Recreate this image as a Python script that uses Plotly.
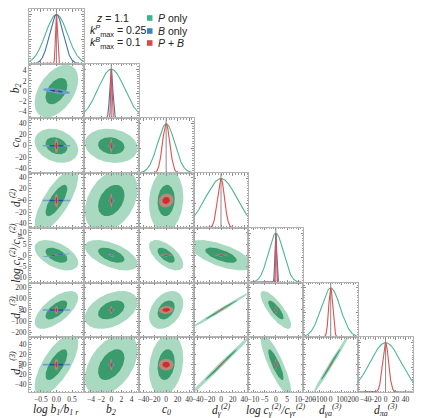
import numpy as np
import plotly.graph_objects as go
from plotly.subplots import make_subplots

# parameter names (row / column order of the triangle)
param_labels = [
    "log b<sub>1</sub>/b<sub>1 r</sub>",
    "b<sub>2</sub>",
    "c<sub>0</sub>",
    "d<sub>γ</sub><sup>(2)</sup>",
    "log c<sub>γ</sub><sup>(2)</sup>/c<sub>γr</sub><sup>(2)</sup>",
    "d<sub>γa</sub><sup>(3)</sup>",
    "d<sub>πa</sub><sup>(3)</sup>",
]
fiducial = [0, 0, 0, 0, 0, 0, 0]
axis_ranges = [[-0.88, 0.88], [-5.4, 5.4], [-48, 48], [-47, 47],
               [-12.2, 12.2], [-245, 245], [-55, 55]]
tick_vals = [[-0.5, 0.0, 0.5], [-4, -2, 0, 2, 4], [-40, -20, 0, 20, 40],
             [-40, -20, 0, 20, 40], [-10, -5, 0, 5, 10],
             [-200, -100, 0, 100, 200], [-40, -20, 0, 20, 40]]
tick_text = [["−0.5", "0.0", "0.5"], ["−4", "−2", "0", "2", "4"],
             ["−40", "−20", "0", "20", "40"], ["−40", "−20", "0", "20", "40"],
             ["−10", "−5", "0", "5", "10"], ["−200", "−100", "0", "100", "200"],
             ["−40", "−20", "0", "20", "40"]]

# marginal errors for the three cases (0 = fixed / not constrained)
sigma_p = [0.35, 2.6, 15.0, 27.0, 3.4, 85.0, 31.0]
sigma_b = [0.22, 0.3, 0.0, 0.0, 0.4, 0.0, 0.0]
sigma_pb = [0.03, 0.12, 6.5, 6.0, 0.2, 18.0, 6.0]

# correlation coefficients, lower triangle (row i vs column j < i)
corr_p = [
    [],
    [0.45],
    [-0.25, -0.15],
    [0.75, 0.35, 0.1],
    [-0.5, -0.55, -0.6, -0.65],
    [0.65, 0.4, 0.35, 0.994, -0.8],
    [0.7, 0.45, 0.2, 0.995, -0.85, 0.992],
]
corr_b = [
    [],
    [-0.6],
    [0, 0],
    [0, 0, 0],
    [0.83, -0.6, 0, 0],
    [0, 0, 0, 0, 0],
    [0, 0, 0, 0, 0, 0],
]
corr_pb = [
    [],
    [0.0],
    [0.0, 0.0],
    [0.0, 0.0, 0.1],
    [0.0, 0.0, 0.0, 0.0],
    [0.0, 0.0, 0.1, 0.99, 0.0],
    [0.0, 0.0, 0.0, 0.99, 0.0, 0.99],
]

levels = [2.0, 1.0]  # 2-sigma and 1-sigma contours

green = ["#a9d9c1", "#3a9b6c", "#4fb694"]
blue = ["#6f9fcf", "#1f4f96", "#3f74ad"]
red = ["rgba(226,130,130,0.75)", "#d42a2a", "#e05050"]

N = len(param_labels)
fig = make_subplots(rows=N, cols=N, horizontal_spacing=0, vertical_spacing=0)


def ellipse(sx, sy, rho, k, x0, y0):
    t = np.linspace(0, 2 * np.pi, 200)
    x = x0 + k * sx * np.cos(t)
    y = y0 + k * sy * (rho * np.cos(t) + np.sqrt(max(1 - rho ** 2, 0)) * np.sin(t))
    return x, y


for i in range(N):
    for j in range(i):
        for sig, cor, cols in [(sigma_p, corr_p, green), (sigma_b, corr_b, blue),
                               (sigma_pb, corr_pb, red)]:
            if sig[i] == 0 and sig[j] == 0:
                continue
            for lev, fc in zip(levels, cols[:2]):
                ex, ey = ellipse(sig[j], sig[i], cor[i][j], lev, fiducial[j], fiducial[i])
                degenerate = sig[i] == 0 or sig[j] == 0
                fig.add_trace(go.Scatter(
                    x=ex, y=ey, mode="lines", fill="toself", fillcolor=fc,
                    line=dict(color=fc, width=1.6 if degenerate else 0),
                    hoverinfo="skip", showlegend=False), row=i + 1, col=j + 1)

# 1D marginals on the diagonal
for i in range(N):
    lo, hi = axis_ranges[i]
    fig.add_trace(go.Scatter(x=[fiducial[i], fiducial[i]], y=[0, 1.11], mode="lines",
                             line=dict(color="#8a8a8a", width=1), hoverinfo="skip",
                             showlegend=False), row=i + 1, col=i + 1)
    xs = np.linspace(lo, hi, 2001)
    for sig, cols in [(sigma_p, green), (sigma_b, blue), (sigma_pb, red)]:
        if sig[i] == 0:
            continue
        ys = np.exp(-0.5 * ((xs - fiducial[i]) / sig[i]) ** 2)
        fig.add_trace(go.Scatter(x=xs, y=ys, mode="lines",
                                 line=dict(color=cols[2], width=1.1),
                                 hoverinfo="skip", showlegend=False),
                      row=i + 1, col=i + 1)

ax_common = dict(showline=True, linecolor="#b4b4b4", linewidth=1, mirror="allticks",
                 ticks="inside", ticklen=2.5, tickcolor="#8c8c8c", tickwidth=0.8,
                 showgrid=False, zeroline=False, automargin=False, tickangle=0,
                 minor=dict(ticks="inside", ticklen=1.5, tickcolor="#a0a0a0", nticks=5),
                 tickfont=dict(family="Liberation Serif", size=7.5, color="#333"))

for i in range(N):
    for j in range(N):
        if j > i:
            fig.update_xaxes(visible=False, automargin=False, row=i + 1, col=j + 1)
            fig.update_yaxes(visible=False, automargin=False, row=i + 1, col=j + 1)
            continue
        fig.update_xaxes(ax_common, range=axis_ranges[j], tickvals=tick_vals[j],
                         ticktext=tick_text[j], showticklabels=(i == N - 1),
                         row=i + 1, col=j + 1)
        if i == j:
            fig.update_yaxes(ax_common, range=[0, 1.11], tickvals=[0, 0.5, 1.0],
                             showticklabels=False, row=i + 1, col=j + 1)
        else:
            fig.update_yaxes(ax_common, range=axis_ranges[i], tickvals=tick_vals[i],
                             ticktext=tick_text[i], showticklabels=(j == 0),
                             row=i + 1, col=j + 1)

# the page body adds an 8px offset, so the figure is 8px smaller and shifted
OFF = 8
FIG_W, FIG_H = 443 - OFF, 418 - OFF
L, T, W, H = 29 - OFF, 1, 384, 383


def px(x):
    return (x - OFF - L) / W


def py(y):
    return (T + H - (y - OFF)) / H


annots = []
title_font = dict(family="Liberation Serif", size=11.5, color="#222")
for k in range(N):
    annots.append(dict(text="<i>" + param_labels[k] + "</i>", x=px(29 + (k + 0.5) * W / N),
                       y=py(409.5), xref="paper", yref="paper", showarrow=False,
                       xanchor="center", yanchor="middle", font=title_font))
    if k > 0:
        annots.append(dict(text="<i>" + param_labels[k] + "</i>", x=px(16),
                           y=py(6 + (k + 0.5) * 384 / N), xref="paper", yref="paper",
                           showarrow=False, textangle=-90, xanchor="center",
                           yanchor="middle", font=title_font))

info_font = dict(family="Liberation Sans", size=10.5, color="#222")
annots.append(dict(text="<i>z</i> = 1.1", x=px(112), y=py(18), xref="paper", yref="paper",
                   showarrow=False, xanchor="center", yanchor="middle", font=info_font))
annots.append(dict(text="<i>k</i><sup><i>P</i></sup><sub>max</sub> = 0.25", x=px(88), y=py(31),
                   xref="paper", yref="paper", showarrow=False, xanchor="left",
                   yanchor="middle", font=info_font))
annots.append(dict(text="<i>k</i><sup><i>B</i></sup><sub>max</sub> = 0.1", x=px(88), y=py(43),
                   xref="paper", yref="paper", showarrow=False, xanchor="left",
                   yanchor="middle", font=info_font))

legend_names = ["<i>P</i> only", "<i>B</i> only", "<i>P</i> + <i>B</i>"]
legend_colors = ["#3cb38a", "#3d84b8", "#dc4848"]
legend_y = [18, 31, 43]
shapes = []
for name, col, yy in zip(legend_names, legend_colors, legend_y):
    shapes.append(dict(type="rect", xref="paper", yref="paper", x0=px(147), x1=px(152.5),
                       y0=py(yy + 2.8), y1=py(yy - 2.8), fillcolor=col, line=dict(width=0)))
    annots.append(dict(text=name, x=px(156), y=py(yy), xref="paper", yref="paper",
                       showarrow=False, xanchor="left", yanchor="middle", font=info_font))

fig.update_layout(width=FIG_W, height=FIG_H,
                  margin=dict(l=L, r=FIG_W - L - W, t=T, b=FIG_H - T - H),
                  plot_bgcolor="white", paper_bgcolor="white", annotations=annots,
                  shapes=shapes, showlegend=False)

fig.write_html("out.html")
